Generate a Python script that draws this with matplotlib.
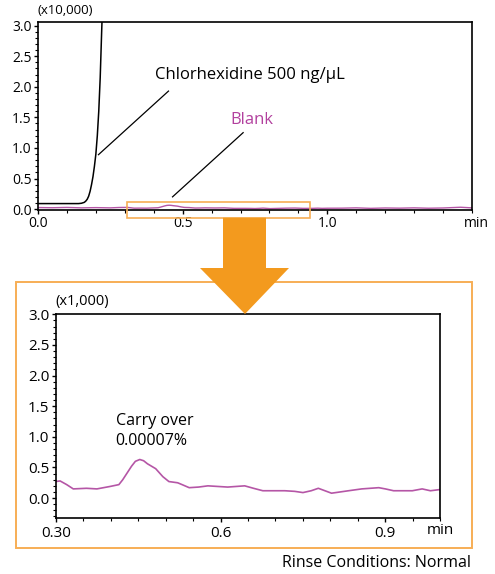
import matplotlib
matplotlib.use('Agg')
import matplotlib.pyplot as plt
from matplotlib.patches import Polygon, Rectangle
from matplotlib.ticker import MultipleLocator
import numpy as np

plt.rcParams['font.family'] = ['Open Sans', 'DejaVu Sans']

# Chlorhexidine 500 ng/uL trace (x10,000)
chx_t = [0.0, 0.05, 0.10, 0.14, 0.15, 0.16, 0.165, 0.17, 0.175, 0.18, 0.185, 0.19, 0.195,
         0.20, 0.205, 0.21, 0.215, 0.22, 0.225, 0.23]
chx_v = [0.09, 0.09, 0.09, 0.09, 0.095, 0.11, 0.13, 0.16, 0.21, 0.29, 0.40, 0.53, 0.70,
         0.90, 1.20, 1.60, 2.15, 2.90, 3.60, 4.40]

# Blank trace (counts x1,000)
blank_t = [0.00, 0.05, 0.10, 0.15, 0.20, 0.25, 0.28,
           0.300, 0.308, 0.320, 0.332, 0.356, 0.375, 0.399, 0.415, 0.422, 0.430, 0.438,
           0.445, 0.453, 0.460, 0.467, 0.482, 0.495, 0.506, 0.522, 0.530, 0.543, 0.560,
           0.577, 0.613, 0.644, 0.660, 0.677, 0.717, 0.735, 0.750, 0.765, 0.778, 0.790,
           0.802, 0.833, 0.857, 0.888, 0.900, 0.915, 0.949, 0.967, 0.982,
           1.000, 1.05, 1.10, 1.15, 1.20, 1.25, 1.30, 1.35, 1.40, 1.46, 1.50]
blank_v = [0.25, 0.22, 0.27, 0.20, 0.24, 0.20, 0.26,
           0.27, 0.28, 0.22, 0.15, 0.16, 0.15, 0.19, 0.22, 0.30, 0.41, 0.52,
           0.60, 0.63, 0.61, 0.56, 0.48, 0.35, 0.27, 0.25, 0.22, 0.17, 0.18,
           0.20, 0.18, 0.20, 0.16, 0.12, 0.12, 0.11, 0.09, 0.12, 0.16, 0.12,
           0.08, 0.12, 0.15, 0.17, 0.15, 0.12, 0.12, 0.15, 0.12,
           0.14, 0.15, 0.20, 0.12, 0.18, 0.15, 0.20, 0.14, 0.18, 0.30, 0.20]

top_yticks = [0.0, 0.5, 1.0, 1.5, 2.0, 2.5, 3.0]
top_xticks = [0.0, 0.5, 1.0]
low_xticks = [0.3, 0.6, 0.9]
low_xlabels = ['0.30', '0.6', '0.9']

W, H = 495, 574
ORANGE = '#F39A1E'
ORANGE_LIGHT = '#F7AE55'
MAGENTA = '#B2409E'
MAG_LINE = '#B556A6'


def px(x, y):
    return (x / W, 1 - y / H)


def style_axis(ax, fs):
    for s in ax.spines.values():
        s.set_linewidth(1.2)
    ax.tick_params(which='major', direction='out', length=3, width=1, labelsize=fs, pad=1.5)
    ax.tick_params(which='minor', direction='out', length=2, width=0.8)


fig = plt.figure(figsize=(W / 100, H / 100), dpi=100)

# ---- top panel ----
ax1 = fig.add_axes([38 / W, 1 - 210 / H, 434 / W, 188 / H])
ax1.plot(chx_t, chx_v, color='black', lw=1.1)
ax1.plot(blank_t, np.array(blank_v) / 10, color=MAG_LINE, lw=1.0)
ax1.set_xlim(0, 1.5)
ax1.set_ylim(-0.015, 3.06)
ax1.set_yticks(top_yticks)
ax1.set_yticklabels([f'{v:.1f}' for v in top_yticks])
ax1.set_xticks(top_xticks)
ax1.set_xticklabels([f'{v:.1f}' for v in top_xticks])
ax1.xaxis.set_minor_locator(MultipleLocator(0.1))
ax1.yaxis.set_minor_locator(MultipleLocator(0.1))
style_axis(ax1, 10)
ax1.text(0.0, 1.025, '(x10,000)', transform=ax1.transAxes, fontsize=9.5, va='bottom', ha='left')
ax1.text(1.01, -0.07, 'min', transform=ax1.transAxes, fontsize=10, va='center', ha='center')

ax1.text(0.405, 2.2, 'Chlorhexidine 500 ng/μL', fontsize=12, va='center', ha='left')
ax1.plot([0.209, 0.451], [0.89, 1.93], color='black', lw=0.9)
ax1.text(0.664, 1.46, 'Blank', fontsize=12, color=MAGENTA, va='center', ha='left')
ax1.plot([0.465, 0.709], [0.20, 1.25], color='black', lw=0.9)

# zoom window on the top panel
ax1.add_patch(Rectangle((0.307, -0.14), 0.632, 0.25, fill=False,
                        edgecolor=ORANGE_LIGHT, lw=1.2, clip_on=False, zorder=5))

# ---- bottom panel ----
ax2 = fig.add_axes([55.7 / W, 1 - 517.7 / H, 384.6 / W, 203.4 / H])
ax2.plot(blank_t, blank_v, color=MAG_LINE, lw=1.2)
ax2.set_xlim(0.3, 1.0)
ax2.set_ylim(-0.32, 3.0)
ax2.set_yticks(top_yticks)
ax2.set_yticklabels([f'{v:.1f}' for v in top_yticks])
ax2.set_xticks(low_xticks)
ax2.set_xticklabels(low_xlabels)
ax2.xaxis.set_minor_locator(MultipleLocator(0.05))
ax2.yaxis.set_minor_locator(MultipleLocator(0.1))
style_axis(ax2, 11)
ax2.tick_params(axis='x', pad=3)
ax2.text(0.0, 1.025, '(x1,000)', transform=ax2.transAxes, fontsize=10.5, va='bottom', ha='left')
ax2.text(1.0, -0.064, 'min', transform=ax2.transAxes, fontsize=11, va='center', ha='center')
ax2.text(0.409, 1.10, 'Carry over\n0.00007%', fontsize=11.5, va='center', ha='left',
         linespacing=1.35)

# ---- frame, arrow, note ----
x0, y0 = px(16, 547.7)
x1, y1 = px(471.7, 282)
fig.patches.append(Rectangle((x0, y0), x1 - x0, y1 - y0, fill=False, edgecolor=ORANGE_LIGHT,
                             lw=1.4, transform=fig.transFigure, figure=fig, zorder=1))
arrow_px = [(223, 217.7), (266, 217.7), (266, 268), (289, 268), (245, 314),
            (200, 268), (223, 268)]
fig.patches.append(Polygon([px(a, b) for a, b in arrow_px], closed=True, facecolor=ORANGE,
                           edgecolor='none', transform=fig.transFigure, figure=fig, zorder=2))

fig.text(471 / W, 1 - 563 / H, 'Rinse Conditions: Normal', fontsize=11.5, ha='right', va='center')

fig.savefig('out.png', dpi=100)
